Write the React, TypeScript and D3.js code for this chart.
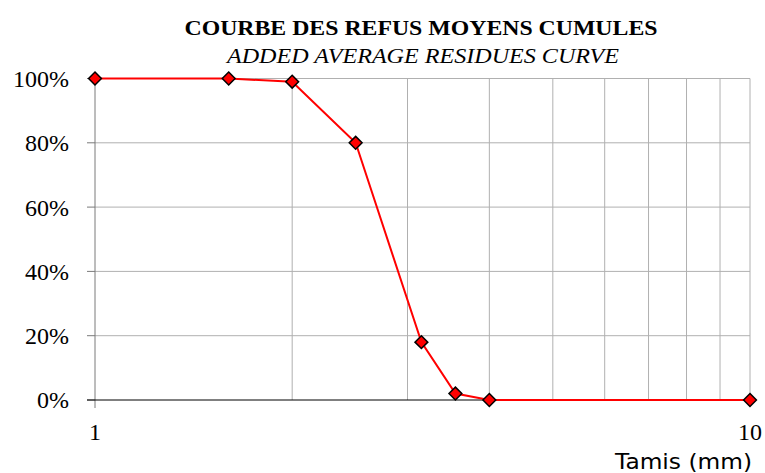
import React from 'react';
import * as d3 from 'd3';

// sieve sizes (mm) and cumulated residues (%)
const sieves = [1, 1.6, 2, 2.5, 3.15, 3.55, 4, 10];
const residues = [100, 100, 99, 80, 18, 2, 0, 0];
const yTicks = [0, 20, 40, 60, 80, 100];
const xLabels = [1, 10];
const xGrid = [2, 3, 4, 5, 6, 7, 8, 9, 10];

const width = 765;
const height = 473;
const margin = { top: 78.5, right: 15, bottom: 73, left: 95 };

const App = () => {
    const x = d3.scaleLog()
        .domain([1, 10])
        .range([margin.left, width - margin.right]);
    const y = d3.scaleLinear()
        .domain([0, 100])
        .range([height - margin.bottom, margin.top]);

    const points = sieves.map((s, i) => ({ s, v: residues[i] }));
    const line = d3.line<{ s: number; v: number }>()
        .x(d => x(d.s))
        .y(d => y(d.v));

    const diamond = d3.symbol().type(d3.symbolDiamond2).size(105)();
    const serif = '"Liberation Serif", "Times New Roman", serif';

    return (
        <svg width={width} height={height} style={{ position: 'absolute', left: 0, top: 0 }}>
            <rect width={width} height={height} fill="#fff" />

            {/* title */}
            <text x={421} y={35} textAnchor="middle" fontFamily={serif} fontWeight="bold" fontSize={22}
                textLength={473} lengthAdjust="spacingAndGlyphs">
                COURBE DES REFUS MOYENS CUMULES
            </text>
            <text x={423} y={63} textAnchor="middle" fontFamily={serif} fontStyle="italic" fontSize={21}
                textLength={392} lengthAdjust="spacingAndGlyphs">
                ADDED AVERAGE RESIDUES CURVE
            </text>

            {/* horizontal grid */}
            {yTicks.filter(t => t > 0).map(t => (
                <line key={'h' + t} x1={margin.left} x2={width - margin.right} y1={y(t)} y2={y(t)}
                    stroke="#b0b0b0" strokeWidth={1} />
            ))}
            {/* vertical grid */}
            {xGrid.map(g => (
                <line key={'v' + g} x1={x(g)} x2={x(g)} y1={margin.top} y2={y(0)}
                    stroke="#b0b0b0" strokeWidth={1} />
            ))}

            {/* y axis */}
            <line x1={margin.left} x2={margin.left} y1={margin.top} y2={y(0) + 8} stroke="#7a7a7a" strokeWidth={1} />
            {yTicks.map(t => (
                <g key={'yt' + t}>
                    <line x1={margin.left - 8} x2={margin.left} y1={y(t)} y2={y(t)} stroke="#7a7a7a" />
                    <text x={69} y={y(t)} dy="0.35em" textAnchor="end" fontFamily={serif} fontSize={24}>
                        {t + '%'}
                    </text>
                </g>
            ))}

            {/* x axis */}
            <line x1={margin.left - 8} x2={width - margin.right} y1={y(0)} y2={y(0)} stroke="#000" strokeWidth={1} />
            {xLabels.map(l => (
                <text key={'xl' + l} x={x(l)} y={y(0) + 32} dy="0.35em" textAnchor="middle" fontFamily={serif} fontSize={24}>
                    {l}
                </text>
            ))}
            <text x={752} y={469} textAnchor="end" fontFamily='"DejaVu Sans", sans-serif' fontSize={22}
                textLength={137} lengthAdjust="spacingAndGlyphs">
                Tamis (mm)
            </text>

            {/* curve */}
            <path d={line(points) || ''} fill="none" stroke="#ff0000" strokeWidth={2} />
            {points.map((p, i) => (
                <path key={'m' + i} d={diamond || ''} transform={`translate(${x(p.s)},${y(p.v)})`}
                    fill="#ff0000" stroke="#000" strokeWidth={1.5} />
            ))}
        </svg>
    );
};

export default App;
